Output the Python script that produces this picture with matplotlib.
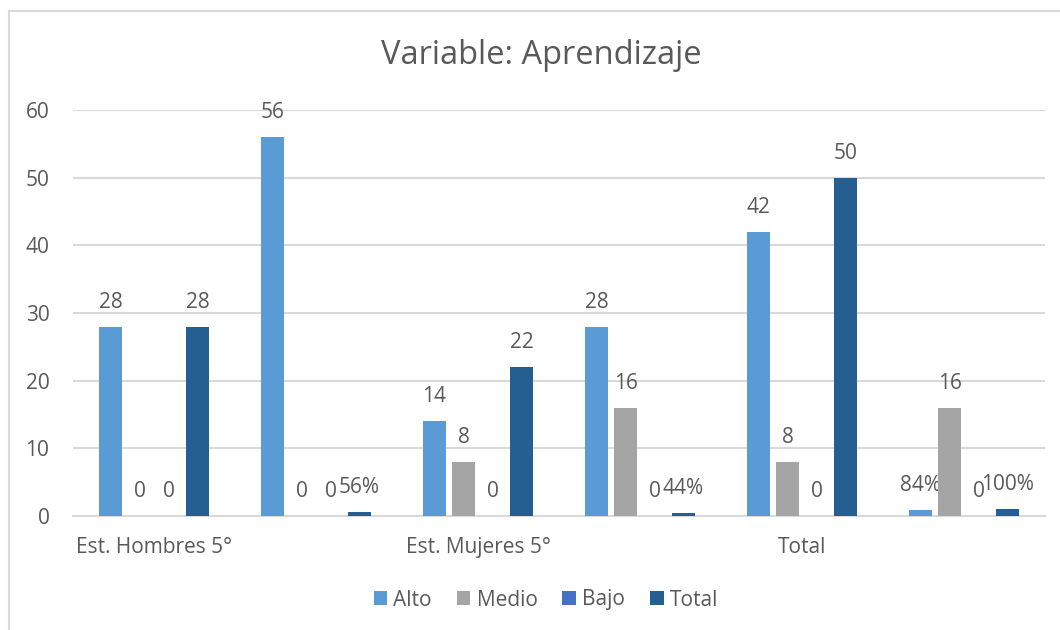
import numpy as np
import matplotlib
matplotlib.use("Agg")
import matplotlib.pyplot as plt
from matplotlib.lines import Line2D

# data
categories = ["Est. Hombres 5°", "", "Est. Mujeres 5°", "", "Total", ""]
alto = [28, 56, 14, 28, 42, 0.84]
medio = [0, 0, 8, 16, 8, 16]
bajo = [0, 0, 0, 0, 0, 0]
total = [28, 0.56, 22, 0.44, 50, 1.0]

series_names = ["Alto", "Medio", "Bajo", "Total"]
series_colors = ["#5B9BD5", "#A5A5A5", "#4472C4", "#255E91"]
text_color = "#595959"
grid_color = "#D9D9D9"

plt.rcParams['font.family'] = ['Open Sans', 'DejaVu Sans']

fig = plt.figure(figsize=(10.6, 6.3), dpi=100)
ax = fig.add_axes([73 / 1060, 1 - 516 / 630, 972 / 1060, 406 / 630])

x = np.arange(len(categories))
step = 29 / 162
width = 23 / 162

def fmt(v):
    # cells in the "%" rows are fractions shown as percentages
    if 0 < v <= 1:
        return f"{v * 100:.0f}%"
    return f"{v:g}"

for i, (vals, name, col) in enumerate(zip([alto, medio, bajo, total], series_names, series_colors)):
    pos = x + (i - 1.5) * step
    bars = ax.bar(pos, vals, width, color=col, label=name, zorder=3)
    for b, v in zip(bars, vals):
        ax.annotate(fmt(v), (b.get_x() + b.get_width() / 2, b.get_height()),
                    textcoords="offset points", xytext=(0, 10),
                    ha='center', va='bottom', fontsize=15, color=text_color)

ax.set_xlim(-0.5, len(categories) - 0.5)
ax.set_ylim(0, 60)
ax.set_yticks(range(0, 61, 10))
ax.set_xticks(x)
ax.set_xticklabels(categories)
ax.yaxis.grid(True, color=grid_color, linewidth=1.5, zorder=0)
ax.set_axisbelow(True)
for s in ["top", "right", "left"]:
    ax.spines[s].set_visible(False)
ax.spines["bottom"].set_color(grid_color)
ax.spines["bottom"].set_linewidth(1.5)
ax.tick_params(axis='y', length=0, pad=17, labelsize=15, labelcolor=text_color)
ax.tick_params(axis='x', length=0, pad=15, labelsize=15, labelcolor=text_color)

fig.text(0.511, 1 - 55 / 630, "Variable: Aprendizaje", ha='center', va='center',
         fontsize=23.5, color=text_color)

fig.legend(loc='center', bbox_to_anchor=(0.515, 1 - 600 / 630), ncol=4, frameon=False,
           fontsize=15, labelcolor=text_color, handlelength=0.65, handleheight=0.65,
           handletextpad=0.3, columnspacing=1.2)

# chart area border (left and top edges visible)
fig.add_artist(Line2D([9 / 1060, 9 / 1060], [0, 1 - 11 / 630], color=grid_color, lw=1.5,
                      transform=fig.transFigure))
fig.add_artist(Line2D([9 / 1060, 1], [1 - 11 / 630, 1 - 11 / 630], color=grid_color, lw=1.5,
                      transform=fig.transFigure))

fig.savefig("out.png", dpi=100, facecolor="white")
